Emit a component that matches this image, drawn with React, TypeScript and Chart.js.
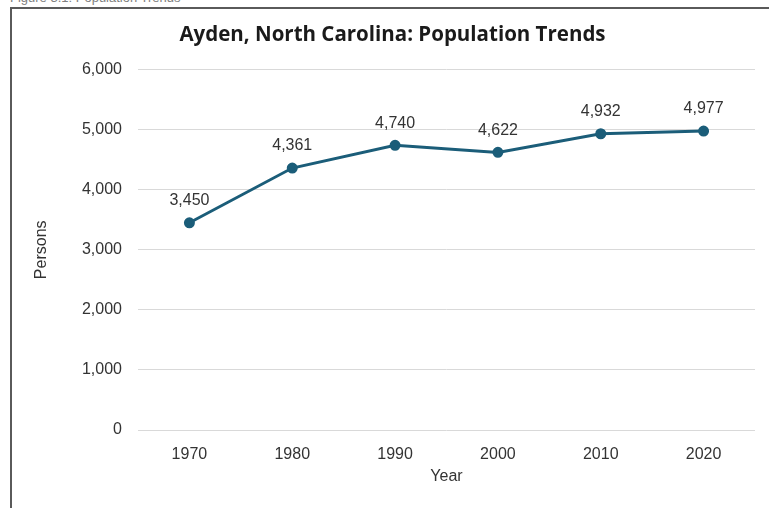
import React, { useEffect, useRef } from "react";
import { Chart, registerables } from "chart.js";

Chart.register(...registerables);

const years: string[] = ["1970", "1980", "1990", "2000", "2010", "2020"];
const population: number[] = [3450, 4361, 4740, 4622, 4932, 4977];
const yTicks: number[] = [0, 1000, 2000, 3000, 4000, 5000, 6000];

const chartTitle = "Ayden, North Carolina: Population Trends";
const captionText = "Figure 3.1: Population Trends";
const lineColor = "#1b5d79";
const textColor = "#333333";
const fontFamily = "'Liberation Sans', Arial, sans-serif";

const valueLabelPlugin = {
  id: "valueLabels",
  afterDatasetsDraw(chart: any) {
    const ctx = chart.ctx;
    const meta = chart.getDatasetMeta(0);
    const data = chart.data.datasets[0].data as number[];
    ctx.save();
    ctx.font = `16px ${fontFamily}`;
    ctx.fillStyle = textColor;
    ctx.textAlign = "center";
    ctx.textBaseline = "middle";
    meta.data.forEach((pt: any, i: number) => {
      ctx.fillText(data[i].toLocaleString("en-US"), pt.x, pt.y - 22);
    });
    ctx.restore();
  },
};

export default function App() {
  const canvasRef = useRef<HTMLCanvasElement | null>(null);

  useEffect(() => {
    if (!canvasRef.current) return;
    const chart = new Chart(canvasRef.current, {
      type: "line",
      data: {
        labels: years,
        datasets: [
          {
            label: "Population",
            data: population,
            borderColor: lineColor,
            backgroundColor: lineColor,
            borderWidth: 3,
            pointRadius: 4,
            pointHoverRadius: 4,
            pointBackgroundColor: lineColor,
            pointBorderColor: lineColor,
            tension: 0,
          },
        ],
      },
      plugins: [valueLabelPlugin],
      options: {
        responsive: false,
        animation: false,
        maintainAspectRatio: false,
        layout: { padding: { left: 30, right: 14, top: 10, bottom: 0 } },
        plugins: {
          legend: { display: false },
          tooltip: { enabled: false },
          title: {
            display: true,
            text: chartTitle,
            color: "#1a1a1a",
            font: { family: "'Open Sans', sans-serif", size: 20.5, weight: "bold" },
            padding: { top: 13, bottom: 22 },
          },
        },
        scales: {
          x: {
            offset: true,
            grid: { display: false, drawTicks: false },
            border: { display: false },
            ticks: {
              color: textColor,
              font: { family: fontFamily, size: 16 },
              padding: 15,
              maxRotation: 0,
            },
            title: {
              display: true,
              text: "Year",
              color: textColor,
              font: { family: fontFamily, size: 16 },
              padding: { top: 0, bottom: 22 },
            },
            afterFit(scale: any) {
              scale.height = 78;
            },
          },
          y: {
            min: 0,
            max: 6000,
            afterBuildTicks(scale: any) {
              scale.ticks = yTicks.map((v) => ({ value: v }));
            },
            grid: { color: "#d9d9d9", lineWidth: 1, drawTicks: false },
            border: { display: false },
            ticks: {
              color: textColor,
              font: { family: fontFamily, size: 16 },
              padding: 16,
              callback: (v: any) => Number(v).toLocaleString("en-US"),
            },
            title: {
              display: true,
              text: "Persons",
              color: textColor,
              font: { family: fontFamily, size: 16 },
              padding: { top: 2, bottom: 0 },
            },
            afterFit(scale: any) {
              scale.width = 108;
            },
          },
        },
      },
    });
    return () => chart.destroy();
  }, []);

  return (
    <div
      style={{
        position: "absolute",
        left: 0,
        top: 0,
        width: 769,
        height: 508,
        overflow: "hidden",
        background: "#ffffff",
      }}
    >
      <div
        style={{
          position: "absolute",
          left: 10,
          top: -9,
          fontFamily: fontFamily,
          fontSize: 13,
          lineHeight: "13px",
          color: "#808080",
          whiteSpace: "nowrap",
        }}
      >
        {captionText}
      </div>
      <div
        style={{
          position: "absolute",
          left: 10,
          top: 7,
          width: 800,
          height: 560,
          border: "2px solid #5a5a5a",
          boxSizing: "border-box",
        }}
      />
      <canvas
        ref={canvasRef}
        width={769}
        height={508}
        style={{ position: "absolute", left: 0, top: 0, width: 769, height: 508 }}
      />
    </div>
  );
}
